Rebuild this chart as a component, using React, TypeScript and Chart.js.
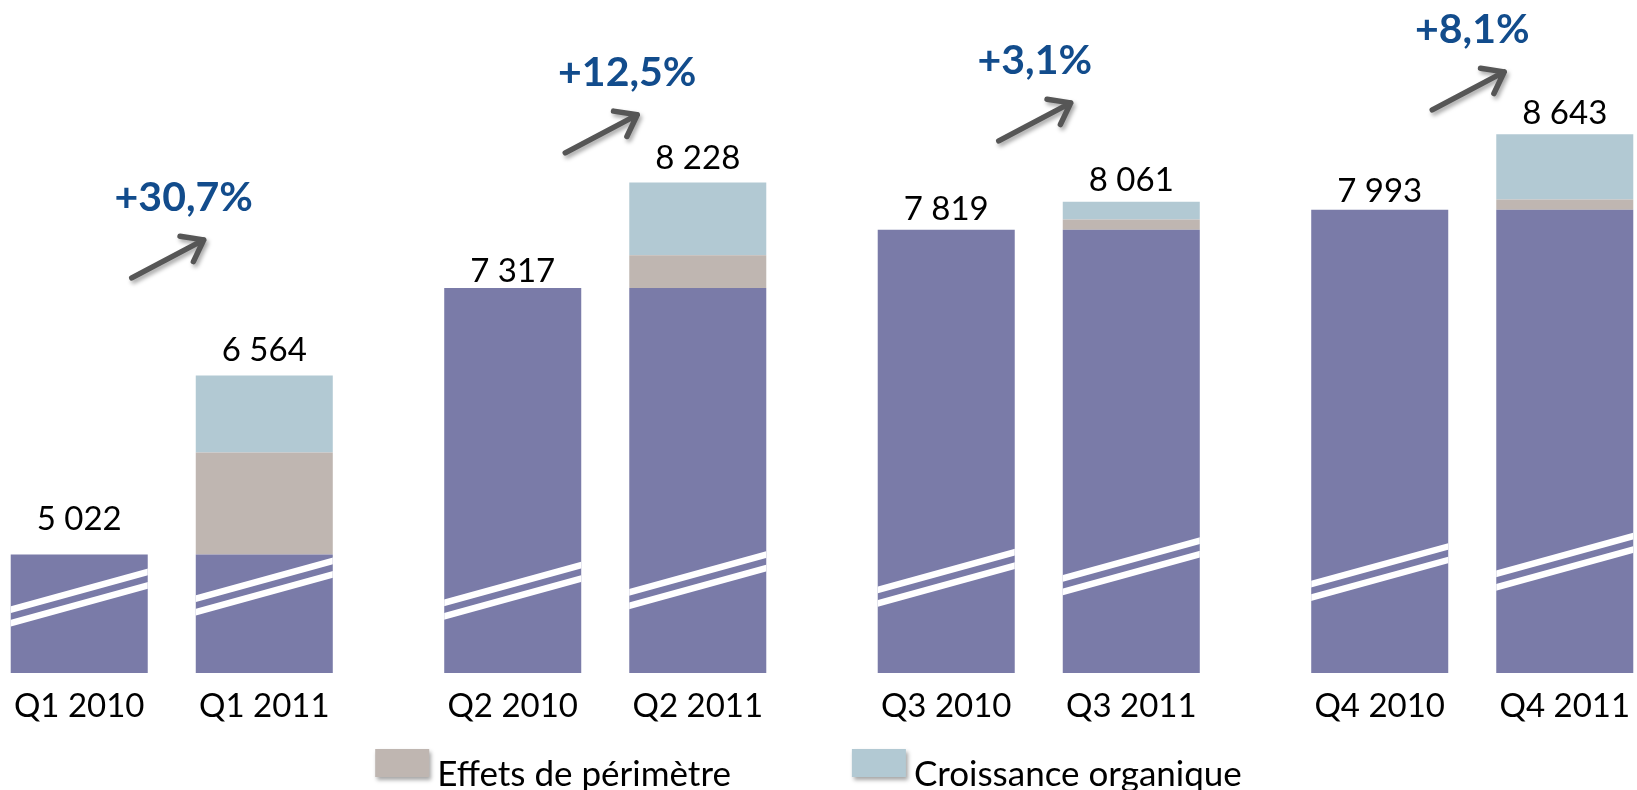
import React, { useEffect, useRef } from 'react';
import { Chart, registerables } from 'chart.js';

Chart.register(...registerables);

// ---------- data ----------
const quarters = ['Q1', 'Q2', 'Q3', 'Q4'];
const barLabels2010 = ['Q1 2010', 'Q2 2010', 'Q3 2010', 'Q4 2010'];
const barLabels2011 = ['Q1 2011', 'Q2 2011', 'Q3 2011', 'Q4 2011'];
const revenue2010 = [5022, 7317, 7819, 7993];
const base2011 = [5022, 7317, 7819, 7993];
const scopeEffect2011 = [879, 284, 90, 88];
const organicGrowth2011 = [663, 627, 152, 562];

// ---------- decoration settings ----------
const breakLevels2010 = [4650, 4710, 4820, 4870];
const breakLevels2011 = [4745, 4800, 4920, 4960];
const arrowLevels = [7405, 8483, 8586, 8853];
const growthLabelDx = [12, 22, -4, 0];
const valueGap2010 = [24, 6, 10, 8];
const valueGap2011 = [14, 13, 11, 10];

const PURPLE = '#7a7ba8';
const TAUPE = '#bfb6b1';
const LIGHTBLUE = '#b2c9d3';
const ARROW = '#565656';
const GROWTH_BLUE = '#124c8c';
const FONT = 'Lato, "Open Sans", sans-serif';

const fmt = (n: number) => String(n).replace(/\B(?=(\d{3})+(?!\d))/g, ' ');
const pct = (a: number, b: number) => '+' + ((b / a - 1) * 100).toFixed(1).replace('.', ',') + '%';

const decorations = {
  id: 'decorations',
  afterDatasetsDraw(chart: any) {
    const ctx = chart.ctx as CanvasRenderingContext2D;
    const ys = chart.scales.y;
    const xs = chart.scales.x;
    const m2010 = chart.getDatasetMeta(0).data;
    const m2011 = chart.getDatasetMeta(1).data;
    const mTop = chart.getDatasetMeta(3).data;

    // break marks
    const drawBreak = (el: any, level: number) => {
      const { x, width } = el.getProps(['x', 'width'], true);
      const left = x - width / 2;
      const right = x + width / 2;
      const my = ys.getPixelForValue(level);
      const slope = -0.275;
      ctx.save();
      ctx.beginPath();
      ctx.rect(left, 0, width, chart.height);
      ctx.clip();
      ctx.strokeStyle = '#ffffff';
      ctx.lineWidth = 6.5;
      for (const off of [-6.75, 6.75]) {
        ctx.beginPath();
        ctx.moveTo(left - 5, my + (left - 5 - x) * slope + off);
        ctx.lineTo(right + 5, my + (right + 5 - x) * slope + off);
        ctx.stroke();
      }
      ctx.restore();
    };
    m2010.forEach((el: any, i: number) => drawBreak(el, breakLevels2010[i]));
    m2011.forEach((el: any, i: number) => drawBreak(el, breakLevels2011[i]));

    // value labels
    ctx.save();
    ctx.fillStyle = '#000';
    ctx.font = `33px ${FONT}`;
    ctx.textAlign = 'center';
    ctx.textBaseline = 'alphabetic';
    m2010.forEach((el: any, i: number) => {
      const { x, y } = el.getProps(['x', 'y'], true);
      ctx.fillText(fmt(revenue2010[i]), x, y - valueGap2010[i]);
    });
    mTop.forEach((el: any, i: number) => {
      const { x, y } = el.getProps(['x', 'y'], true);
      const total = base2011[i] + scopeEffect2011[i] + organicGrowth2011[i];
      ctx.fillText(fmt(total), x, y - valueGap2011[i]);
    });
    // category labels under each bar
    m2010.forEach((el: any, i: number) => {
      const { x } = el.getProps(['x'], true);
      ctx.fillText(barLabels2010[i], x, 717);
    });
    m2011.forEach((el: any, i: number) => {
      const { x } = el.getProps(['x'], true);
      ctx.fillText(barLabels2011[i], x, 717);
    });
    ctx.restore();

    // growth arrows + percentages
    quarters.forEach((_q, i) => {
      const gx = xs.getPixelForValue(i);
      const ay = ys.getPixelForValue(arrowLevels[i]);
      const tx = gx - 40, ty = ay;
      const hx = gx + 32, hy = ay - 38;
      const rev = Math.atan2(ty - hy, tx - hx);
      const wing = 0.64, len = 24;
      ctx.save();
      ctx.shadowColor = 'rgba(0,0,0,0.35)';
      ctx.shadowBlur = 4;
      ctx.shadowOffsetX = 2;
      ctx.shadowOffsetY = 3;
      ctx.strokeStyle = ARROW;
      ctx.lineWidth = 5.5;
      ctx.lineCap = 'round';
      ctx.lineJoin = 'round';
      ctx.beginPath();
      ctx.moveTo(tx, ty);
      ctx.lineTo(hx, hy);
      ctx.moveTo(hx + Math.cos(rev + wing) * len, hy + Math.sin(rev + wing) * len);
      ctx.lineTo(hx, hy);
      ctx.lineTo(hx + Math.cos(rev - wing) * len, hy + Math.sin(rev - wing) * len);
      ctx.stroke();
      ctx.restore();

      const total = base2011[i] + scopeEffect2011[i] + organicGrowth2011[i];
      ctx.save();
      ctx.fillStyle = GROWTH_BLUE;
      ctx.font = `bold 41px ${FONT}`;
      ctx.textAlign = 'center';
      ctx.textBaseline = 'alphabetic';
      ctx.fillText(pct(revenue2010[i], total), gx + growthLabelDx[i], ay - 67);
      ctx.restore();
    });

    // legend (scope + organic datasets)
    const items = [2, 3].map((d) => chart.data.datasets[d]);
    ctx.save();
    ctx.font = `35px ${FONT}`;
    const boxW = 54, boxH = 28, textGap = 8, itemGap = 121;
    const widths = items.map((it: any) => ctx.measureText(it.label).width);
    const total = widths.reduce((a: number, w: number) => a + boxW + textGap + w, 0) + itemGap;
    let lx = chart.width / 2 - 13.5 - total / 2;
    const baseline = 786;
    items.forEach((it: any, k: number) => {
      ctx.save();
      ctx.shadowColor = 'rgba(0,0,0,0.35)';
      ctx.shadowBlur = 4;
      ctx.shadowOffsetX = 2;
      ctx.shadowOffsetY = 3;
      ctx.fillStyle = it.backgroundColor;
      ctx.fillRect(lx, baseline - 37, boxW, boxH);
      ctx.restore();
      ctx.fillStyle = '#000';
      ctx.textAlign = 'left';
      ctx.textBaseline = 'alphabetic';
      ctx.fillText(it.label, lx + boxW + textGap, baseline);
      lx += boxW + textGap + widths[k] + itemGap;
    });
    ctx.restore();
  },
};

export default function App() {
  const ref = useRef<HTMLCanvasElement>(null);
  useEffect(() => {
    const chart = new Chart(ref.current as HTMLCanvasElement, {
      type: 'bar',
      data: {
        labels: quarters,
        datasets: [
          { label: '2010', data: revenue2010, backgroundColor: PURPLE, stack: 's2010', borderWidth: 0 },
          { label: '2011', data: base2011, backgroundColor: PURPLE, stack: 's2011', borderWidth: 0 },
          { label: 'Effets de périmètre', data: scopeEffect2011, backgroundColor: TAUPE, stack: 's2011', borderWidth: 0 },
          { label: 'Croissance organique', data: organicGrowth2011, backgroundColor: LIGHTBLUE, stack: 's2011', borderWidth: 0 },
        ],
      },
      options: {
        animation: false,
        responsive: true,
        maintainAspectRatio: false,
        datasets: { bar: { categoryPercentage: 0.8537, barPercentage: 0.7405 } },
        layout: { padding: { top: 0, bottom: 117, left: 0, right: 0 } },
        plugins: { legend: { display: false }, tooltip: { enabled: false } },
        scales: {
          x: { display: false, stacked: true },
          y: { display: false, stacked: true, min: 4000, max: 9800 },
        },
      },
      plugins: [decorations],
    });
    return () => chart.destroy();
  }, []);
  return (
    <div style={{ position: 'fixed', left: 0, top: 0, width: 1637, height: 790, overflow: 'hidden', background: '#fff' }}>
      <div style={{ position: 'absolute', left: -45, top: 0, width: 1734, height: 790 }}>
        <canvas ref={ref} />
      </div>
    </div>
  );
}
